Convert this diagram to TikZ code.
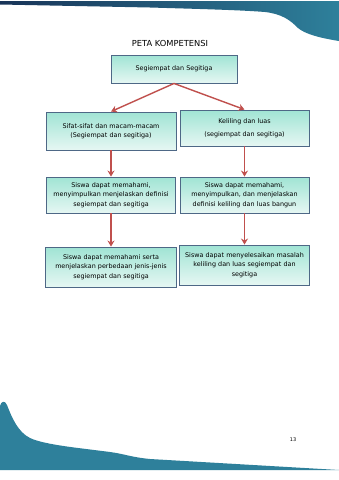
\documentclass[tikz,border=0pt]{standalone}
\usepackage{fontspec}
\setmainfont{DejaVu Sans}
\usetikzlibrary{arrows.meta, positioning}
\definecolor{kotakatas}{RGB}{160,228,212}
\definecolor{kotakbawah}{RGB}{230,247,243}
\definecolor{garistepi}{RGB}{78,104,134}
\definecolor{merahpanah}{RGB}{192,80,77}
\definecolor{birugelap}{RGB}{24,52,88}
\definecolor{tosca}{RGB}{46,128,155}

\begin{document}
\begin{tikzpicture}[x=1pt, y=-1pt,
  kbox/.style={draw=garistepi, line width=0.9pt, top color=kotakatas, bottom color=kotakbawah,
    align=center, inner sep=1pt, font=\fontsize{6.4}{9.5}\selectfont},
  panah/.style={-{Stealth[length=6pt, width=7pt]}, line width=1.4pt, merahpanah}]
  \useasboundingbox (0,0) rectangle (339,480);
  \fill[white] (0,0) rectangle (339,480);

  % hiasan atas dan bawah
  \shade[left color=birugelap, right color=tosca] (0,1) -- (339,1) -- (339,41)
    .. controls (320,38) and (305,34) .. (298,28)
    .. controls (290,20) and (282,14) .. (265,12)
    .. controls (240,10) and (200,9) .. (150,7.5) -- (0,4.5) -- cycle;
  \fill[tosca] (0,470) -- (0,406) .. controls (1,401) and (5,400) .. (7,405)
    .. controls (12,418) and (18,432) .. (30,438)
    .. controls (45,445) and (80,448) .. (110,452)
    .. controls (125,454) and (130,457) .. (150,459) -- (339,470) -- cycle;
  \node[font=\fontsize{5}{6}\selectfont] (hal) at (293,440) {13};

  \node[font=\fontsize{8.3}{9}\selectfont] (judul) at (170,43) {PETA KOMPETENSI};
  \node[kbox, minimum width=126pt, minimum height=28pt, text width=122pt] (pokok) at (174,69) {Segiempat dan Segitiga};

  \node[kbox, minimum width=130pt, minimum height=38pt, text width=127pt] (sifat) at (111,131)
    {Sifat-sifat dan macam-macam\\(Segiempat dan segitiga)};
  \node[kbox, minimum width=129pt, minimum height=36pt, text width=126pt,
    font=\fontsize{6.4}{13}\selectfont] (keliling) at (244.5,128)
    {Keliling dan luas\\(segiempat dan segitiga)};

  \node[kbox, minimum width=129pt, minimum height=36pt, text width=127pt] (definisi) at (111,195)
    {Siswa dapat memahami,\\menyimpulkan menjelaskan definisi\\segiempat dan segitiga};
  \node[kbox, minimum width=129pt, minimum height=36pt, text width=127pt] (defkel) at (244.5,195)
    {Siswa dapat memahami,\\menyimpulkan, dan menjelaskan\\definisi keliling dan luas bangun};

  \node[kbox, minimum width=131pt, minimum height=40pt, text width=129pt] (jenis) at (111,267)
    {Siswa dapat memahami serta\\menjelaskan perbedaan jenis-jenis\\segiempat dan segitiga};
  \node[kbox, minimum width=130pt, minimum height=40pt, text width=128pt] (masalah) at (244.5,265)
    {Siswa dapat menyelesaikan masalah\\keliling dan luas segiempat dan\\segitiga};

  \draw[panah] (pokok.south) -- (sifat.north);
  \draw[panah] (pokok.south) -- (keliling.north);
  \draw[panah] (sifat.south) -- (definisi.north);
  \draw[panah] (keliling.south) -- (defkel.north);
  \draw[panah] (definisi.south) -- (jenis.north);
  \draw[panah] (defkel.south) -- (masalah.north);
\end{tikzpicture}
\end{document}
